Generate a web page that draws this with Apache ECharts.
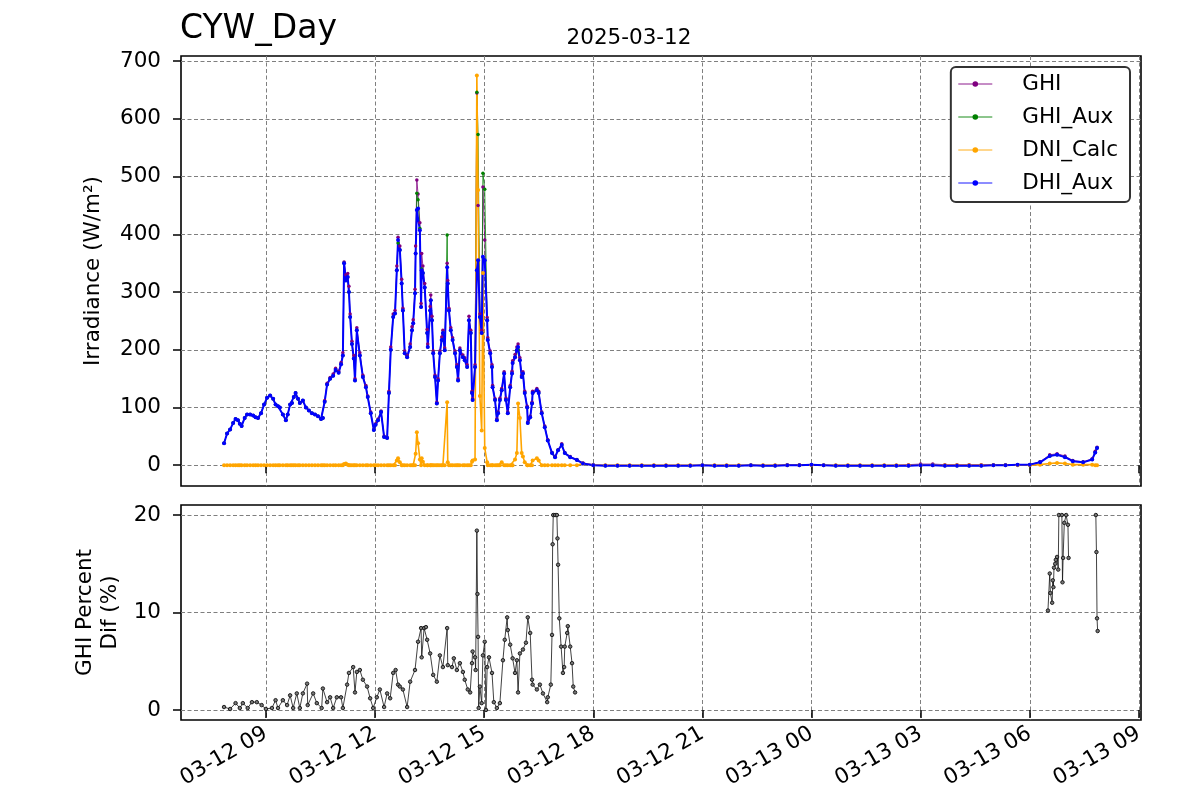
<!DOCTYPE html>
<html><head><meta charset="utf-8">
<script src="https://cdn.jsdelivr.net/npm/echarts@6/dist/echarts.min.js"></script>
<style>html,body{margin:0;padding:0;background:#fff}#c{width:1200px;height:800px}</style>
</head><body><div id="c"></div>
<script>
// ---------- DATA ----------
// time of each sample, minutes after 2025-03-12 00:00
const timeMin = [
  471,476,481,486,490,494,497,500,505,509,
  514,519,523,527,532,537,542,547,552,556,
  560,563,568,573,576,580,583,586,589,593,
  596,601,606,611,616,621,626,631,634,637,
  641,646,651,655,660,664,667,669,672,675,
  677,679,682,685,687,690,695,700,705,708,
  713,718,721,725,730,735,740,743,746,750,
  753,756,758,761,764,766,769,773,778,781,
  783,786,787,789,791,794,796,797,799,802,
  806,807,811,812,814,816,819,822,824,827,
  830,832,835,839,840,842,845,848,852,855,
  857,860,865,868,872,875,878,880,881,885,
  888,890,893,896,898,901,905,906,910,913,
  914,918,921,923,926,929,933,936,939,943,
  946,947,951,954,956,959,962,964,967,971,
  972,976,979,980,987,990,995,1000,1005,1012,
  1017,1022,1028,1033,1042,1053,1063,1080,
  1100,1120,1140,1160,1180,1200,1220,1240,1260,1280,
  1300,1320,1340,1360,1380,1400,1420,1440,1460,1480,
  1500,1520,1540,1560,1580,1600,1620,1640,1660,1680,
  1700,1720,1740,1760,1780,
  1800,1817,1833,1845,1858,1871,1888,1903,1908,1911
];
const ghi = [
  38,55,62,73,80,78,72,68,82,88,
  88,86,83,82,90,105,117,121,115,105,
  102,100,88,78,88,105,108,118,125,115,
  108,112,100,95,90,88,85,80,82,112,
  142,152,158,168,163,178,195,352,330,332,
  310,262,215,190,150,238,195,156,138,120,
  92,62,72,80,94,50,48,128,205,262,
  268,345,395,380,322,272,198,190,210,240,
  252,305,380,494,470,420,280,367,345,315,
  235,210,275,295,258,198,156,109,150,198,
  222,234,203,350,320,272,238,221,198,174,
  150,203,191,186,174,258,234,128,115,174,
  645,450,262,234,482,390,256,221,198,174,
  138,115,80,92,116,133,162,116,92,138,
  163,181,192,205,210,186,156,162,128,102,
  75,85,109,128,133,128,92,68,44,22,
  15,27,37,22,15,10,4,1,
  0,0,0,0,0,0,0,0,0,0,
  0,0,0,0,0,1,1,1,0,0,
  0,0,0,0,0,1,2,2,1,1,
  1,1,1,1,1,
  1,6,18,20,16,8,6,11,24,31
];
const ghiAux = [
  38,55,62,73,80,78,72,68,82,88,
  88,86,83,82,90,105,117,121,115,105,
  102,100,88,78,88,105,108,118,125,115,
  108,112,100,95,90,88,85,80,82,110,
  140,150,155,165,160,175,190,350,320,326,
  300,257,210,185,147,234,190,153,135,118,
  90,61,70,78,92,49,47,125,200,257,
  263,338,385,373,315,268,194,187,205,234,
  246,298,367,471,460,410,274,340,333,308,
  229,205,268,286,251,194,153,107,147,194,
  217,229,199,399,315,268,234,217,194,170,
  147,199,187,182,170,251,229,125,113,170,
  646,573,257,229,506,478,251,217,194,170,
  135,113,78,90,113,130,159,113,90,135,
  159,177,187,200,200,182,153,159,125,100,
  73,83,107,125,130,125,90,66,43,21,
  14,26,35,21,14,9,3,0,
  -1,-1,-1,-1,-1,-1,-1,-1,0,-1,
  -1,-1,0,-1,-1,0,0,1,0,-1,
  -1,-1,-1,-1,-1,-1,0,0,-1,-1,
  -1,-1,0,0,1,
  1,5,16,18,14,7,5,10,22,30
];
const dniCalc = [
  0,0,0,0,0,0,0,0,0,0,
  0,0,0,0,0,0,0,0,0,0,
  0,0,0,0,0,0,0,0,0,0,
  0,0,0,0,0,0,0,0,0,0,
  0,0,0,0,0,0,0,2,3,1,
  0,0,0,0,0,0,0,0,0,0,
  0,0,0,0,0,0,0,0,0,0,
  0,8,12,5,0,0,0,0,0,0,
  0,0,20,57,38,10,0,12,6,0,
  0,0,0,0,0,0,0,0,0,0,
  0,0,0,109,5,0,0,0,0,0,
  0,0,0,0,0,0,0,6,8,10,
  675,477,120,60,333,30,5,0,0,0,
  0,0,0,0,0,5,0,0,0,0,
  0,0,10,21,107,82,21,15,5,0,
  0,0,0,8,12,8,0,0,0,0,
  0,0,0,0,0,0,3,0,
  0,0,0,0,0,0,0,0,0,0,
  0,0,0,0,0,0,0,0,0,0,
  0,0,0,0,0,0,0,0,0,0,
  0,0,0,0,0,
  0,1,3,4,3,1,1,1,0,0
];
const dhiAux = [
  38,55,62,73,80,78,72,68,82,88,
  88,86,83,82,90,105,117,121,115,105,
  102,100,88,78,88,105,108,118,125,115,
  108,112,100,95,90,88,85,80,82,110,
  140,150,155,165,160,175,190,350,320,326,
  300,257,210,185,147,234,190,153,135,118,
  90,61,70,78,92,49,47,125,200,257,
  263,338,390,373,315,268,194,187,205,234,
  246,298,367,442,445,407,274,338,333,308,
  229,205,268,286,251,194,153,107,147,194,
  217,229,199,343,315,268,234,217,194,170,
  147,199,187,182,170,251,229,125,113,170,
  338,355,257,229,361,355,251,217,194,170,
  135,113,78,90,113,130,159,113,90,135,
  159,177,187,199,205,182,153,159,125,100,
  73,83,107,125,130,125,90,66,43,21,
  14,26,35,21,14,9,3,0,
  -1,-1,-1,-1,-1,-1,-1,-1,0,-1,
  -1,-1,0,-1,-1,0,0,1,0,-1,
  -1,-1,-1,-1,-1,-1,0,0,-1,-1,
  -1,-1,0,0,1,
  1,5,16,18,14,7,5,10,22,30
];

// GHI percent difference (null = gap)
const pctTime = [
  471,481,490,497,502,510,517,525,533,540,
  550,556,560,568,575,580,585,591,596,601,
  608,609,618,624,632,634,641,646,651,657,
  664,667,674,677,684,687,690,695,700,707,
  712,717,723,728,735,740,745,750,754,758,
  761,766,773,778,786,791,796,797,801,804,
  806,811,816,822,827,832,839,840,847,850,
  855,860,865,868,873,877,880,881,885,886,
  888,889,890,891,893,896,898,901,903,905,
  908,913,916,921,926,931,934,938,939,943,
  947,951,954,956,959,964,969,972,976,979,
  980,987,992,997,1004,1005,1010,1012,1013,1014,
  1017,1020,1021,1022,1024,1027,1030,1032,1033,1037,
  1038,1042,1045,1047,1050,
  1100,
  1830,1833,1834,1837,1838,1839,1840,1842,1843,1845,
  1847,1848,1853,1854,1855,1857,1860,1863,1864,
  1880,
  1909,1910,1911,1912
];
const pctDif = [
  0.3,0.1,0.7,0.2,0.7,0.2,0.8,0.8,0.5,0.1,
  0.2,1.0,0.2,1.0,0.5,1.5,0.2,1.7,0.2,1.7,
  2.7,0.5,1.7,0.7,0.2,2.2,0.8,1.3,0.2,1.3,
  1.3,0.2,2.6,3.8,4.4,1.8,3.9,4.1,3.1,2.4,
  1.2,0.2,1.3,2.1,0.3,1.7,1.2,3.8,4.1,2.6,
  2.4,2.1,0.3,2.9,4.1,7.0,8.4,5.4,8.4,8.5,
  7.2,5.8,3.6,2.9,5.6,4.4,8.4,4.6,4.4,5.3,
  4.1,4.8,3.9,3.1,2.1,1.8,4.8,6.0,5.4,4.1,
  18.4,11.9,7.5,0.2,2.4,0.7,5.6,7.0,0.0,4.4,
  5.4,3.8,0.8,0.2,0.7,5.1,7.2,9.5,8.2,6.7,
  5.3,3.8,5.1,1.8,5.8,6.2,6.9,9.5,7.9,3.1,
  2.6,2.1,2.6,1.7,0.8,1.3,2.6,7.7,17.0,20,
  20,20,17.6,14.9,9.4,6.5,3.8,4.4,6.5,7.9,
  8.6,6.5,4.8,2.4,1.8,
  null,
  10.2,14,12,11,13.3,12.6,14.6,15,15.4,15.7,
  14.4,20,20,13.1,15.6,19.2,20,19,15.6,
  null,
  20,16.2,9.4,8.1
];

const xTickMinutes = [540,720,900,1080,1260,1440,1620,1800,1980];
const xTickLabels = ['03-12 09','03-12 12','03-12 15','03-12 18','03-12 21','03-13 00','03-13 03','03-13 06','03-13 09'];
const irrTicks = [0,100,200,300,400,500,600,700];
const pctTicks = [0,10,20];
const seriesNames = ['GHI','GHI_Aux','DNI_Calc','DHI_Aux'];
const seriesColors = ['#800080','#008000','#ffa500','#0000ff'];

// ---------- CHART ----------
const FONT = 'DejaVu Sans';
const FS = 21.5;
const chart = echarts.init(document.getElementById('c'), null, {renderer:'canvas'});
const topSeriesData = [ghi, ghiAux, dniCalc, dhiAux];
const lineWidths = [0.8, 0.8, 1.6, 2.0];
const symSizes = [3.5, 3.5, 4, 4];
const pair = (ts, vs) => ts.map((t,i)=>[t, vs[i]]);

const splitDash = {show:true, lineStyle:{color:'#7f7f7f', width:1, type:[4,2.5]}};
const tickStyle = {show:true, inside:false, length:8, lineStyle:{color:'#000', width:1.5}};

function xAxis(gridIndex, showLabels){
  return {
    type:'value', gridIndex, min:400, max:1983.5,
    axisLine:{show:false},
    axisTick:Object.assign({customValues:xTickMinutes}, tickStyle),
    splitLine:splitDash,
    axisLabel:{show:showLabels, customValues:xTickMinutes, rotate:30, margin:12,
      fontFamily:FONT, fontSize:FS, color:'#000',
      formatter:v=>xTickLabels[xTickMinutes.indexOf(v)]}
  };
}

const option = {
  animation:false,
  backgroundColor:'#fff',
  title:[
    {text:'CYW_Day', left:180, top:13, padding:0,
     textStyle:{fontFamily:FONT, fontSize:33, fontWeight:'normal', color:'#000'}},
    {text:'2025-03-12', left:629, top:27, padding:0, textAlign:'center',
     textStyle:{fontFamily:FONT, fontSize:FS, fontWeight:'normal', color:'#000'}}
  ],
  legend:{
    data:seriesNames, orient:'vertical', right:70, top:67,
    padding:[6,12,8,7], itemGap:11, itemWidth:34, itemHeight:7,
    lineStyle:{width:0.9},
    backgroundColor:'#fff', borderColor:'#333', borderWidth:2, borderRadius:5,
    textStyle:{fontFamily:FONT, fontSize:FS, color:'#000', padding:[0,0,0,25]}
  },
  grid:[
    {left:181, top:56, width:960, height:430, show:true, borderColor:'#000', borderWidth:1.6, backgroundColor:'transparent'},
    {left:181, top:505, width:960, height:215, show:true, borderColor:'#000', borderWidth:1.6, backgroundColor:'transparent'}
  ],
  xAxis:[xAxis(0,false), xAxis(1,true)],
  yAxis:[
    {type:'value', gridIndex:0, min:-36, max:709,
     axisLine:{show:false},
     axisTick:Object.assign({customValues:irrTicks}, tickStyle),
     splitLine:splitDash,
     axisLabel:{customValues:irrTicks, margin:20, fontFamily:FONT, fontSize:FS, color:'#000'},
     name:'Irradiance (W/m²)', nameLocation:'middle', nameRotate:90, nameGap:77,
     nameTextStyle:{fontFamily:FONT, fontSize:FS, color:'#000'}},
    {type:'value', gridIndex:1, min:-1.03, max:21.03,
     axisLine:{show:false},
     axisTick:Object.assign({customValues:pctTicks}, tickStyle),
     splitLine:splitDash,
     axisLabel:{customValues:pctTicks, margin:20, fontFamily:FONT, fontSize:FS, color:'#000'},
     name:'GHI Percent\nDif (%)', nameLocation:'middle', nameRotate:90, nameGap:55,
     nameTextStyle:{fontFamily:FONT, fontSize:FS, color:'#000', lineHeight:25, align:'center'}}
  ],
  series: seriesNames.map((name,k)=>({
    name, type:'line', xAxisIndex:0, yAxisIndex:0,
    data:pair(timeMin, topSeriesData[k]),
    symbol:'circle', symbolSize:symSizes[k], showSymbol:true,
    lineStyle:{color:seriesColors[k], width:lineWidths[k]},
    itemStyle:{color:seriesColors[k]},
    emphasis:{disabled:true}
  })).concat([{
    name:'pct', type:'line', xAxisIndex:1, yAxisIndex:1,
    data:pair(pctTime, pctDif), connectNulls:false,
    symbol:'circle', symbolSize:3.5, showSymbol:true,
    lineStyle:{color:'#111', width:0.8},
    itemStyle:{color:'#777', borderColor:'#111', borderWidth:0.9},
    emphasis:{disabled:true}
  }])
};
chart.setOption(option);
</script></body></html>
